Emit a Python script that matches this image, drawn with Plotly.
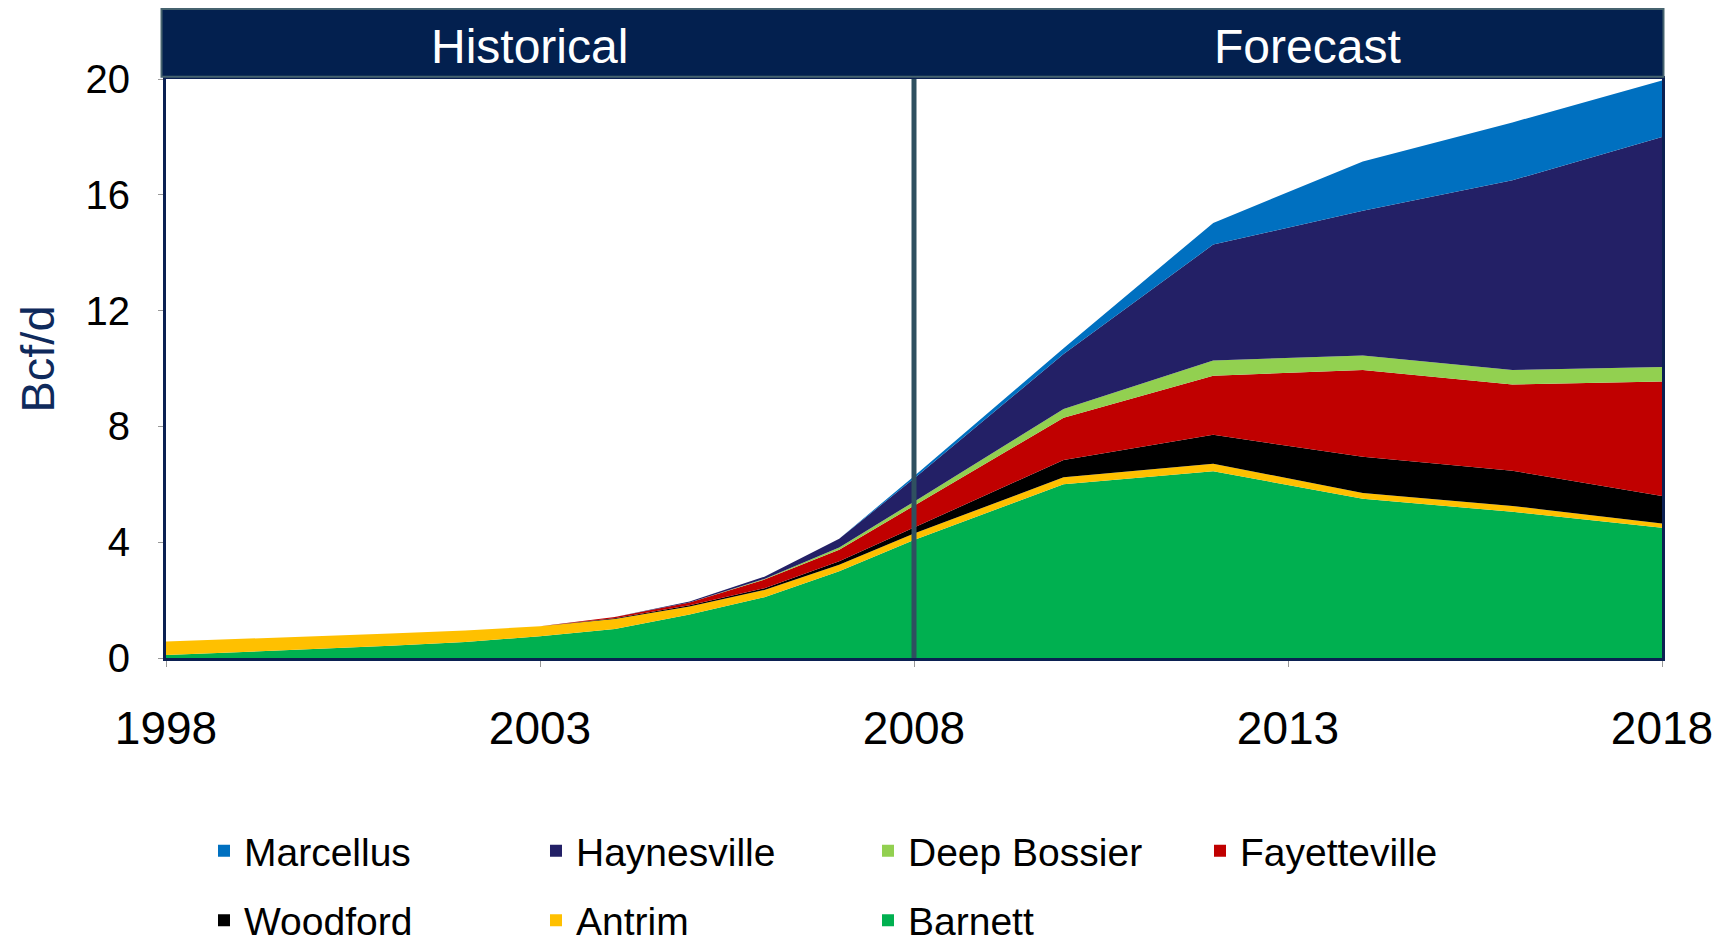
import plotly.graph_objects as go

# Data (Bcf/d)
anos = [1998, 1999, 2000, 2001, 2002, 2003, 2004, 2005, 2006, 2007, 2008,
        2010, 2012, 2014, 2016, 2018]
barnett = [0.10, 0.20, 0.30, 0.42, 0.55, 0.75, 1.00, 1.50, 2.10, 3.00, 4.08,
           6.00, 6.45, 5.50, 5.05, 4.50]
antrim = [0.47, 0.45, 0.45, 0.43, 0.40, 0.35, 0.35, 0.28, 0.25, 0.22, 0.22,
          0.24, 0.26, 0.20, 0.20, 0.15]
woodford = [0, 0, 0, 0, 0, 0, 0.02, 0.04, 0.06, 0.12, 0.20,
            0.60, 1.00, 1.25, 1.22, 0.95]
fayetteville = [0, 0, 0, 0, 0, 0, 0.05, 0.10, 0.30, 0.40, 0.75,
                1.46, 2.04, 3.00, 2.98, 3.95]
deep_bossier = [0, 0, 0, 0, 0, 0, 0, 0, 0.02, 0.08, 0.15,
                0.30, 0.53, 0.50, 0.50, 0.50]
haynesville = [0, 0, 0, 0, 0, 0, 0, 0.03, 0.08, 0.30, 0.80,
               1.90, 4.00, 5.00, 6.55, 7.95]
marcellus = [0, 0, 0, 0, 0, 0, 0, 0, 0, 0, 0.08,
             0.20, 0.75, 1.70, 2.00, 1.95]

x_ticks = [1998, 2003, 2008, 2013, 2018]
y_ticks = [0, 4, 8, 12, 16, 20]

# bottom to top
series = [
    ('Barnett', barnett, '#00B050'),
    ('Antrim', antrim, '#FFC000'),
    ('Woodford', woodford, '#000000'),
    ('Fayetteville', fayetteville, '#C00000'),
    ('Deep Bossier', deep_bossier, '#92D050'),
    ('Haynesville', haynesville, '#232066'),
    ('Marcellus', marcellus, '#0070C0'),
]
cores = {nome: cor for nome, _, cor in series}

fig = go.Figure()
for nome, valores, cor in series:
    fig.add_trace(go.Scatter(
        x=anos, y=valores, name=nome, stackgroup='one',
        mode='lines', line=dict(width=0, color=cor), fillcolor=cor,
        showlegend=False
    ))

# legend entries (square markers), two rows
linha1 = ['Marcellus', 'Haynesville', 'Deep Bossier', 'Fayetteville']
linha2 = ['Woodford', 'Antrim', 'Barnett']
for leg, nomes in [('legend', linha1), ('legend2', linha2)]:
    for nome in nomes:
        fig.add_trace(go.Scatter(
            x=[None], y=[None], name=nome, mode='markers',
            marker=dict(symbol='square', size=14, color=cores[nome]),
            legend=leg
        ))

navy = '#0B2052'
fonte = 'Liberation Sans, Arial, sans-serif'

# header bar
fig.add_shape(type='rect', xref='paper', yref='paper',
              x0=-0.003, x1=1.001, y0=1.004, y1=1.121,
              fillcolor='#03204F', line=dict(color='#46636F', width=2),
              layer='above')
for texto, xpos in [('Historical', 0.243), ('Forecast', 0.763)]:
    fig.add_annotation(text=texto, xref='paper', yref='paper',
                       x=xpos, y=1.056, xanchor='center', yanchor='middle',
                       showarrow=False,
                       font=dict(family=fonte, size=48, color='white'))

# y axis title
fig.add_annotation(text='Bcf/d', xref='paper', yref='paper',
                   x=-0.086, y=0.516, xanchor='center', yanchor='middle',
                   textangle=-90, showarrow=False,
                   font=dict(family=fonte, size=47, color='#0F2A5C'))

# historical / forecast divider
fig.add_shape(type='line', xref='x', yref='y', x0=2008, x1=2008, y0=0, y1=20,
              line=dict(color='#2F5060', width=5), layer='above')

leg_comum = dict(orientation='h', xanchor='left', yanchor='middle',
                 entrywidthmode='pixels', entrywidth=287,
                 font=dict(family=fonte, size=39, color='black'),
                 bgcolor='rgba(0,0,0,0)', itemsizing='constant',
                 traceorder='normal')

fig.update_layout(
    width=1723, height=936,
    margin=dict(l=158, r=69, t=71, b=286, autoexpand=False),
    paper_bgcolor='white', plot_bgcolor='white',
    font=dict(family=fonte, color='black'),
    legend=dict(x=0.0254, y=-0.333, **leg_comum),
    legend2=dict(x=0.0254, y=-0.453, **leg_comum),
    xaxis=dict(
        range=[1998, 2018], tickvals=x_ticks, ticktext=[str(t) for t in x_ticks],
        ticks='outside', ticklen=6, tickcolor='#999999',
        ticklabelstandoff=22,
        tickfont=dict(family=fonte, size=46, color='black'),
        showgrid=False, zeroline=False,
        showline=True, linecolor=navy, linewidth=3, mirror=True
    ),
    yaxis=dict(
        range=[0, 20], tickvals=y_ticks,
        ticks='outside', ticklen=5, tickcolor='#999999',
        ticklabelstandoff=20,
        tickfont=dict(family=fonte, size=40, color='black'),
        showgrid=False, zeroline=False,
        showline=True, linecolor=navy, linewidth=3, mirror=True
    ),
)

fig.write_html('out.html')
